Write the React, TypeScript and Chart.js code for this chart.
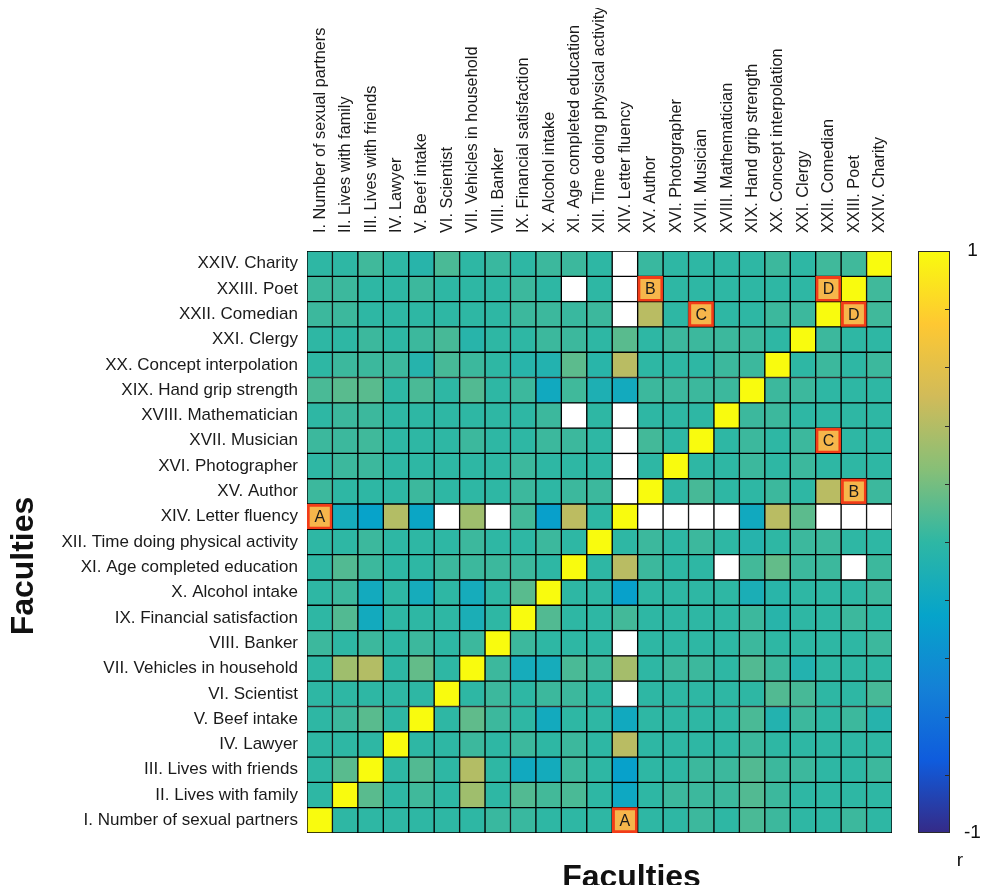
import React, { useEffect, useRef } from 'react';
import { Chart, registerables } from 'chart.js';

Chart.register(...registerables);

// Faculties (rows bottom -> top, columns left -> right)
const faculties: string[] = [
  'I. Number of sexual partners',
  'II. Lives with family',
  'III. Lives with friends',
  'IV. Lawyer',
  'V. Beef intake',
  'VI. Scientist',
  'VII. Vehicles in household',
  'VIII. Banker',
  'IX. Financial satisfaction',
  'X. Alcohol intake',
  'XI. Age completed education',
  'XII. Time doing physical activity',
  'XIV. Letter fluency',
  'XV. Author',
  'XVI. Photographer',
  'XVII. Musician',
  'XVIII. Mathematician',
  'XIX. Hand grip strength',
  'XX. Concept interpolation',
  'XXI. Clergy',
  'XXII. Comedian',
  'XXIII. Poet',
  'XXIV. Charity',
];

// correlation r per row (null = missing / highlighted)
const N = null;
const rowI = [1, 0, 0, 0, 0, 0, 0, 0.03, 0.03, 0, 0, 0, N, 0, 0, 0.04, 0, 0.08, 0.04, 0, 0, 0.04, 0];
const rowII = [0, 1, 0.12, 0, 0.05, 0, 0.33, 0, 0.1, 0.06, 0.08, 0, -0.2, 0, 0.04, 0.04, 0.04, 0.1, 0.04, 0, 0, 0, 0];
const rowIII = [0, 0.12, 1, 0, 0.1, 0, 0.4, 0, -0.18, -0.16, 0.04, 0, -0.27, 0, 0, 0.04, 0.04, 0.1, 0.04, 0.04, 0, 0, 0.04];
const rowIV = [0, 0, 0, 1, 0, 0, 0.04, 0, 0.04, 0, 0.04, 0, 0.42, 0, 0, 0, 0, 0.04, 0, 0, 0, 0, 0];
const rowV = [0, 0.04, 0.12, 0, 1, 0, 0.14, 0.04, 0, -0.17, 0, 0, -0.18, 0, 0, 0, 0, 0.08, -0.07, 0.04, 0, 0.04, -0.05];
const rowVI = [0, 0, 0, 0, 0, 1, 0, 0.04, 0, 0.04, 0.04, 0, N, 0, 0, 0, 0, 0, 0.1, 0.07, 0, 0, 0.07];
const rowVII = [0, 0.33, 0.4, 0, 0.15, 0, 1, 0.04, -0.15, -0.15, 0.08, 0.04, 0.35, 0, 0.04, 0.04, 0, 0.1, 0.04, -0.07, 0, 0, 0];
const rowVIII = [0.04, 0, 0.04, 0, 0.04, 0, 0.04, 1, 0.04, 0, 0, 0, N, 0, 0, 0, 0, 0.04, 0, 0, 0, 0, 0.04];
const rowIX = [0, 0.1, -0.17, 0, 0, 0, -0.12, 0, 1, 0.1, 0, 0, 0.06, 0, 0, 0, 0, 0.04, -0.04, 0, 0, 0.04, 0];
const rowX = [0, 0.04, -0.17, 0, -0.15, 0, -0.15, 0, 0.12, 1, 0, 0, -0.27, 0, 0, 0, 0, -0.12, -0.03, 0, 0, 0, 0.04];
const rowXI = [0, 0.1, 0.04, 0, 0, 0.04, 0.04, 0.04, 0.04, 0, 1, 0, 0.42, 0.04, 0, 0, N, 0.06, 0.15, 0.04, 0.04, N, 0.04];
const rowXII = [0, 0, 0.04, 0, 0, 0, 0.04, 0, 0, 0.04, 0, 1, 0, 0.04, 0, 0.04, 0, -0.05, 0, 0.04, 0.04, 0, 0];
const rowXIV = [N, -0.15, -0.26, 0.4, -0.22, N, 0.33, N, 0.06, -0.28, 0.43, 0, 1, N, N, N, N, -0.18, 0.42, 0.13, N, N, N];
const rowXV = [0.04, 0, 0, 0, 0.04, 0, 0, 0, 0.04, 0, 0.04, 0.04, N, 1, 0, 0.07, 0, 0, 0.04, 0, 0.42, N, 0.04];
const rowXVI = [0, 0.04, 0.04, 0, 0, 0, 0, 0, 0.04, 0, 0, 0, N, 0, 1, 0, 0, 0.04, 0, 0.04, 0, 0, 0];
const rowXVII = [0.04, 0.04, 0.05, 0, 0, 0, 0.04, 0, 0, 0.04, 0.04, 0, N, 0.06, 0, 1, 0, 0.04, 0, 0.04, N, 0, 0];
const rowXVIII = [0, 0.04, 0.04, 0, 0, 0, 0, 0, 0, 0.04, N, 0, N, 0, 0, 0, 1, 0.04, 0.04, 0, 0, 0, 0];
const rowXIX = [0.08, 0.12, 0.12, 0, 0.08, 0, 0.1, 0, 0.04, -0.18, 0.05, -0.1, -0.17, 0.04, 0.04, 0.04, 0.04, 1, 0.04, 0.04, 0, 0, 0];
const rowXX = [0, 0.04, 0.04, 0.04, -0.05, 0.07, 0.04, 0, -0.04, -0.07, 0.13, -0.03, 0.42, 0, 0, 0, 0.04, 0.04, 1, 0, 0.04, 0, 0.04];
const rowXXI = [0, 0, 0.04, 0, 0.04, 0.07, -0.04, 0, 0, 0.04, 0.04, 0, 0.12, 0, 0.04, 0.04, 0.04, 0.04, 0, 1, 0.04, 0, 0];
const rowXXII = [0.04, 0.04, 0, 0, 0, 0, 0, 0, 0.04, 0.04, 0.03, 0.04, N, 0.42, 0, N, 0, 0, 0.04, 0.04, 1, N, 0.05];
const rowXXIII = [0.04, 0.04, 0, 0, 0.04, 0, 0, 0, 0.04, 0, N, 0, N, N, 0, 0, 0, 0, 0, 0, N, 1, 0.05];
const rowXXIV = [0, 0, 0.05, 0, -0.04, 0.08, 0, 0.03, 0, 0.04, 0.04, 0, N, 0.03, 0, 0, 0, 0, 0.04, 0, 0.05, 0.05, 1];

const matrix: (number | null)[][] = [
  rowI, rowII, rowIII, rowIV, rowV, rowVI, rowVII, rowVIII, rowIX, rowX, rowXI, rowXII,
  rowXIV, rowXV, rowXVI, rowXVII, rowXVIII, rowXIX, rowXX, rowXXI, rowXXII, rowXXIII, rowXXIV,
];

// highlighted pairs (row index, column index, letter)
const highlightRows = [12, 0, 21, 13, 20, 15, 21, 20];
const highlightCols = [0, 12, 13, 21, 15, 20, 20, 21];
const highlightLetters = ['A', 'A', 'B', 'B', 'C', 'C', 'D', 'D'];

const colorbarTicks = [-1, 1];
const colorbarMinor = [-0.8, -0.6, -0.4, -0.2, 0, 0.2, 0.4, 0.6, 0.8];

const parula = ['#352A87', '#0F5CDD', '#1481D6', '#06A4CA', '#2EB7A4', '#87BF77', '#D1BB59', '#FEC832', '#F9FB0E'];

const FONT = '"Liberation Sans", Arial, Helvetica, sans-serif';
const HL_FILL = '#f6b64b';
const HL_BORDER = '#f23c18';

function hexToRgb(h: string) {
  const n = parseInt(h.slice(1), 16);
  return [(n >> 16) & 255, (n >> 8) & 255, n & 255];
}
function colorFor(v: number | null): string {
  if (v === null || v === undefined) return '#ffffff';
  const t = ((Math.max(-1, Math.min(1, v)) + 1) / 2) * (parula.length - 1);
  const i = Math.min(Math.floor(t), parula.length - 2);
  const f = t - i;
  const a = hexToRgb(parula[i]);
  const b = hexToRgb(parula[i + 1]);
  const c = a.map((x, k) => Math.round(x + (b[k] - x) * f));
  return `rgb(${c[0]},${c[1]},${c[2]})`;
}
function hlIndex(r: number, c: number) {
  for (let k = 0; k < highlightRows.length; k++) {
    if (highlightRows[k] === r && highlightCols[k] === c) return k;
  }
  return -1;
}

const noPad = (s: any) => {
  s.paddingTop = 0;
  s.paddingBottom = 0;
  s.paddingLeft = 0;
  s.paddingRight = 0;
};

const decorPlugin = {
  id: 'decor',
  afterDatasetsDraw(chart: any) {
    const ctx = chart.ctx;
    ctx.save();
    ctx.font = `16px ${FONT}`;
    ctx.fillStyle = '#1a1a1a';
    ctx.textAlign = 'center';
    ctx.textBaseline = 'middle';
    for (let k = 0; k < highlightRows.length; k++) {
      const el = chart.getDatasetMeta(highlightRows[k]).data[highlightCols[k]];
      if (!el) continue;
      const p = el.getCenterPoint();
      ctx.fillText(highlightLetters[k], p.x, p.y + 1);
    }
    ctx.restore();
  },
  afterDraw(chart: any) {
    const { ctx, chartArea: ca, scales } = chart;
    const cb = scales.cb;
    const x0 = ca.right + 26;
    const w = 32;
    const yTop = cb.getPixelForValue(1);
    const yBot = cb.getPixelForValue(-1);
    ctx.save();
    const g = ctx.createLinearGradient(0, yBot, 0, yTop);
    parula.forEach((c, i) => g.addColorStop(i / (parula.length - 1), c));
    ctx.fillStyle = g;
    ctx.fillRect(x0, yTop, w, yBot - yTop);
    ctx.strokeStyle = '#2a2a2a';
    ctx.lineWidth = 1;
    ctx.strokeRect(x0 + 0.5, yTop + 0.5, w - 1, yBot - yTop - 1);
    ctx.beginPath();
    colorbarMinor.forEach((v) => {
      const y = Math.round(cb.getPixelForValue(v)) + 0.5;
      ctx.moveTo(x0 + w - 5, y);
      ctx.lineTo(x0 + w, y);
    });
    ctx.stroke();

    ctx.fillStyle = '#111';
    ctx.font = `19px ${FONT}`;
    ctx.textAlign = 'center';
    ctx.textBaseline = 'middle';
    ctx.fillText('r', x0 + 42, ca.bottom + 28);

    ctx.font = `bold 32px ${FONT}`;
    ctx.fillText('Faculties', (ca.left + ca.right) / 2 + 32, ca.bottom + 45);
    ctx.translate(16, (ca.top + ca.bottom) / 2 + 24);
    ctx.rotate(-Math.PI / 2);
    ctx.fillText('Faculties', 0, 0);
    ctx.restore();
  },
};

export default function App() {
  const ref = useRef<HTMLCanvasElement | null>(null);

  useEffect(() => {
    if (!ref.current) return;
    const datasets = matrix.map((row, r) => ({
      label: faculties[r],
      data: row.map(() => [r - 0.5, r + 0.5]),
      backgroundColor: row.map((v, c) => (hlIndex(r, c) >= 0 ? HL_FILL : colorFor(v))),
      borderColor: row.map((v, c) => (hlIndex(r, c) >= 0 ? HL_BORDER : '#000')),
      borderWidth: row.map((v, c) => (hlIndex(r, c) >= 0 ? 3 : 1)),
      borderSkipped: false as any,
      barPercentage: 1,
      categoryPercentage: 1,
      grouped: false,
      yAxisID: 'y',
    }));

    const chart = new Chart(ref.current, {
      type: 'bar',
      data: { labels: faculties, datasets: datasets as any },
      options: {
        animation: false,
        responsive: false,
        events: [],
        layout: { padding: { left: 0, right: 0, top: 0, bottom: 52 } },
        plugins: { legend: { display: false }, tooltip: { enabled: false }, title: { display: false } },
        scales: {
          x: {
            type: 'category',
            position: 'top',
            offset: true,
            grid: { display: false, drawTicks: false },
            border: { display: false },
            ticks: {
              autoSkip: false,
              minRotation: 90,
              maxRotation: 90,
              padding: 18,
              labelOffset: 20,
              color: '#1a1a1a',
              font: { family: FONT, size: 16.3 },
            },
            afterFit: (s: any) => { s.height = 243; noPad(s); },
          },
          y: {
            type: 'linear',
            position: 'left',
            min: -0.5,
            max: 22.5,
            grid: { display: false, drawTicks: false },
            border: { display: false },
            afterBuildTicks: (s: any) => { s.ticks = faculties.map((_, i) => ({ value: i })); },
            ticks: {
              padding: 9,
              color: '#1a1a1a',
              font: { family: FONT, size: 17 },
              callback: (v: any) => faculties[Math.round(Number(v))] ?? '',
            },
            afterFit: (s: any) => { s.width = 299; noPad(s); },
          },
          cb: {
            type: 'linear',
            axis: 'y',
            position: 'right',
            min: -1,
            max: 1,
            grid: { display: false, drawTicks: false },
            border: { display: false },
            afterBuildTicks: (s: any) => { s.ticks = colorbarTicks.map((v) => ({ value: v })); },
            ticks: {
              padding: 72,
              crossAlign: 'center',
              color: '#111',
              font: { family: FONT, size: 19 },
              callback: (v: any) => String(v),
            },
            afterFit: (s: any) => { s.width = 88; noPad(s); },
          },
        },
      },
      plugins: [decorPlugin],
    });
    return () => chart.destroy();
  }, []);

  return (
    <div style={{ width: 972, height: 877 }}>
      <canvas ref={ref} width={972} height={877} style={{ display: 'block', width: 972, height: 877 }} />
    </div>
  );
}
